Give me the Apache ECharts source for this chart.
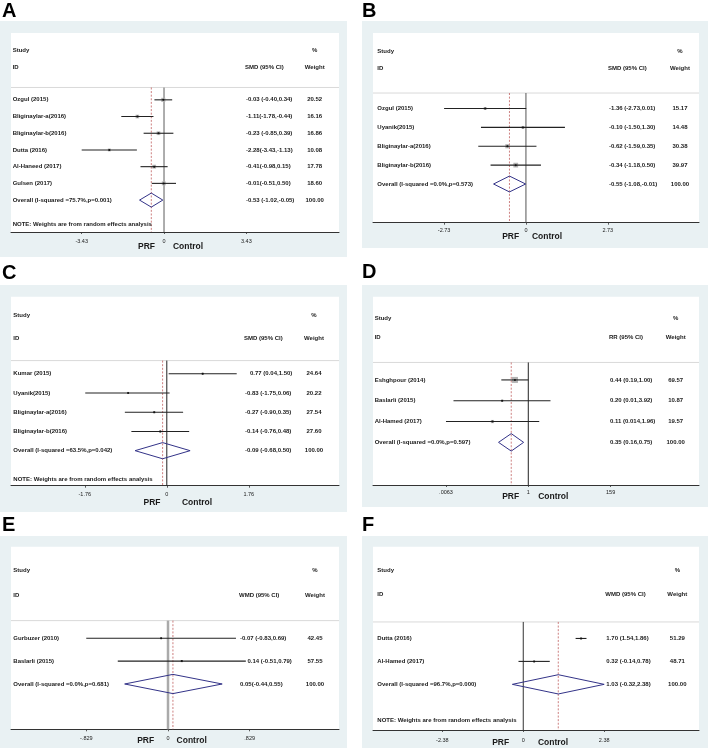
<!DOCTYPE html>
<html><head><meta charset="utf-8">
<script src="https://cdn.jsdelivr.net/npm/echarts@6/dist/echarts.min.js"></script>
<style>html,body{margin:0;padding:0;background:#fff}#c{width:709px;height:756px}</style>
</head><body><div id="c"></div><script>
// ---------------- DATA ----------------
const A_studies = ['Ozgul (2015)','Bliginaylar-a(2016)','Bliginaylar-b(2016)','Dutta (2016)','Al-Haneed (2017)','Gulsen (2017)'];
const A_est = [-0.03,-1.11,-0.23,-2.28,-0.41,-0.01];
const A_lo  = [-0.40,-1.78,-0.85,-3.43,-0.98,-0.51];
const A_hi  = [0.34,-0.44,0.39,-1.13,0.15,0.50];
const A_w   = [20.52,16.16,16.86,10.08,17.78,18.60];
const A_ci  = ['-0.03 (-0.40,0.34)','-1.11(-1.78,-0.44)','-0.23 (-0.85,0.39)','-2.28(-3.43,-1.13)','-0.41(-0.98,0.15)','-0.01(-0.51,0.50)'];
const A_overall = [-0.53,-1.02,-0.05];
const A_overallLabel = 'Overall (I-squared =75.7%,p=0.001)';
const A_overallCI = '-0.53 (-1.02,-0.05)';
const A_ticks = [-3.43,0,3.43];
const A_tickLabels = ['-3.43','0','3.43'];

const B_studies = ['Ozgul (2015)','Uyanik(2015)','Bliginaylar-a(2016)','Bliginaylar-b(2016)'];
const B_est = [-1.36,-0.10,-0.62,-0.34];
const B_lo  = [-2.73,-1.50,-1.59,-1.18];
const B_hi  = [0.01,1.30,0.35,0.50];
const B_w   = [15.17,14.48,30.38,39.97];
const B_ci  = ['-1.36 (-2.73,0.01)','-0.10 (-1.50,1.30)','-0.62 (-1.59,0.35)','-0.34 (-1.18,0.50)'];
const B_overall = [-0.55,-1.08,-0.01];
const B_overallLabel = 'Overall (I-squared =0.0%,p=0.573)';
const B_overallCI = '-0.55 (-1.08,-0.01)';
const B_ticks = [-2.73,0,2.73];
const B_tickLabels = ['-2.73','0','2.73'];

const C_studies = ['Kumar (2015)','Uyanik(2015)','Bliginaylar-a(2016)','Bliginaylar-b(2016)'];
const C_est = [0.77,-0.83,-0.27,-0.14];
const C_lo  = [0.04,-1.75,-0.90,-0.76];
const C_hi  = [1.50,0.06,0.35,0.48];
const C_w   = [24.64,20.22,27.54,27.60];
const C_ci  = ['0.77 (0.04,1.50)','-0.83 (-1.75,0.06)','-0.27 (-0.90,0.35)','-0.14 (-0.76,0.48)'];
const C_overall = [-0.09,-0.68,0.50];
const C_overallLabel = 'Overall (I-squared =63.5%,p=0.042)';
const C_overallCI = '-0.09 (-0.68,0.50)';
const C_ticks = [-1.76,0,1.76];
const C_tickLabels = ['-1.76','0','1.76'];

const D_studies = ['Eshghpour (2014)','Baslarli (2015)','Al-Hamed (2017)'];
const D_est = [0.44,0.20,0.11];
const D_lo  = [0.19,0.01,0.0063];
const D_hi  = [1.00,3.92,1.96];
const D_w   = [69.57,10.87,19.57];
const D_ci  = ['0.44 (0.19,1.00)','0.20 (0.01,3.92)','0.11 (0.014,1.96)'];
const D_overall = [0.35,0.16,0.75];
const D_overallLabel = 'Overall (I-squared =0.0%,p=0.597)';
const D_overallCI = '0.35 (0.16,0.75)';
const D_ticks = [0.0063,1,159];
const D_tickLabels = ['.0063','1','159'];

const E_studies = ['Gurbuzer (2010)','Baslarli (2015)'];
const E_est = [-0.07,0.14];
const E_lo  = [-0.83,-0.51];
const E_hi  = [0.69,0.79];
const E_w   = [42.45,57.55];
const E_ci  = ['-0.07 (-0.83,0.69)','0.14 (-0.51,0.79)'];
const E_overall = [0.05,-0.44,0.55];
const E_overallLabel = 'Overall (I-squared =0.0%,p=0.681)';
const E_overallCI = '0.05(-0.44,0.55)';
const E_ticks = [-0.829,0,0.829];
const E_tickLabels = ['-.829','0','.829'];

const F_studies = ['Dutta (2016)','Al-Hamed (2017)'];
const F_est = [1.70,0.32];
const F_lo  = [1.54,-0.14];
const F_hi  = [1.86,0.78];
const F_w   = [51.29,48.71];
const F_ci  = ['1.70 (1.54,1.86)','0.32 (-0.14,0.78)'];
const F_overall = [1.03,-0.32,2.38];
const F_overallLabel = 'Overall (I-squared =96.7%,p=0.000)';
const F_overallCI = '1.03 (-0.32,2.38)';
const F_ticks = [-2.38,0,2.38];
const F_tickLabels = ['-2.38','0','2.38'];

const panelLetters = ['A','B','C','D','E','F'];
const measures = ['SMD (95% CI)','SMD (95% CI)','SMD (95% CI)','RR (95% CI)','WMD (95% CI)','WMD (95% CI)'];
const noteText = 'NOTE: Weights are from random effects analysis';
const sideLabels = ['PRF','Control'];

// ---------------- LAYOUT ----------------
const panels = [
 {d:[A_studies,A_est,A_lo,A_hi,A_w,A_ci,A_overall,A_overallLabel,A_overallCI,A_ticks,A_tickLabels], log:false, note:true,
  L:{letter:[2,11.5], box:[0,21,347,236], plot:[11,33,328,199], xr:[-6.375,7.29], ymax:7.91, hdr:[-2.97,-1.97,-0.74,7.47], cols:[12.7,246,314.7], ciShift:[], prf:[146.5,246.7], ctl:[188,246.7], boxK:0.9, zero:['#9a9a9a',1.6], lm:6}},
 {d:[B_studies,B_est,B_lo,B_hi,B_w,B_ci,B_overall,B_overallLabel,B_overallCI,B_ticks,B_tickLabels], log:false, note:false,
  L:{letter:[362,11.5], box:[362,21,346,227], plot:[373,33,326,189.7], xr:[-5.1,5.77], ymax:6.05, hdr:[-3.03,-2.11,-0.82,0], cols:[377.3,609,680], ciShift:[], prf:[510.7,236.7], ctl:[547,236.7], boxK:0.75, zero:['#555',1], lm:4.5}},
 {d:[C_studies,C_est,C_lo,C_hi,C_w,C_ci,C_overall,C_overallLabel,C_overallCI,C_ticks,C_tickLabels], log:false, note:true,
  L:{letter:[2,273], box:[0,285,347,227], plot:[11,296.7,328,189], xr:[-3.343,3.695], ymax:5.82, hdr:[-3.04,-1.83,-0.68,5.49], cols:[13.3,245,314], ciShift:[5,0,0,0], prf:[152,503], ctl:[197,503], boxK:0.45, zero:['#222',1], lm:5.5}},
 {d:[D_studies,D_est,D_lo,D_hi,D_w,D_ci,D_overall,D_overallLabel,D_overallCI,D_ticks,D_tickLabels], log:true, note:false,
  L:{letter:[362,272], box:[362,285,346,222], plot:[373,296.7,326,188.3], xr:[-4.152,4.564], ymax:5.05, hdr:[-2.97,-2.05,-0.84,0], cols:[374.7,610,675.7], ciShift:[], prf:[510.7,497], ctl:[553.3,497], boxK:0.72, zero:['#222',1], lm:4.5}},
 {d:[E_studies,E_est,E_lo,E_hi,E_w,E_ci,E_overall,E_overallLabel,E_overallCI,E_ticks,E_tickLabels], log:false, note:false,
  L:{letter:[2,525.5], box:[0,536,347,212], plot:[11,546.7,328,182.6], xr:[-1.594,1.736], ymax:3.98, hdr:[-2.95,-1.89,-0.77,0], cols:[13.3,240,315], ciShift:[0,7.5], prf:[145.7,740.7], ctl:[191.7,740.7], boxK:0.3, zero:['#aaa',2.5], lm:6}},
 {d:[F_studies,F_est,F_lo,F_hi,F_w,F_ci,F_overall,F_overallLabel,F_overallCI,F_ticks,F_tickLabels], log:false, note:true,
  L:{letter:[362,525.5], box:[362,536,346,212], plot:[373,546.7,326,183.3], xr:[-4.42,5.17], ymax:3.99, hdr:[-2.95,-1.92,-0.72,3.56], cols:[377.3,606.3,677.3], ciShift:[], prf:[500.7,743], ctl:[553,743], boxK:0.3, zero:['#333',1], lm:7}}
];

const FAM = '"Liberation Sans", Arial, Helvetica, sans-serif';
const BG = '#e9f1f3';
const INK = '#1a1a1a';
function txt(x, y, s, align, size, weight) {
  return {type:'text', x:x, y:y, style:{text:s, fill:INK, fontSize:size||6, fontWeight:weight||'bold', fontFamily:FAM, align:align||'left', verticalAlign:'middle'}};
}

const grids = [], xAxes = [], yAxes = [], series = [], graphics = [];

panels.forEach((P, k) => {
  const [studies, est, lo, hi, w, ci, ov, ovLabel, ovCI, ticks, tickLabels] = P.d;
  const L = P.L;
  const f = P.log ? (v => Math.log10(v)) : (v => v);
  const tv = ticks.map(f);

  graphics.push({type:'rect', z:-10, shape:{x:L.box[0], y:L.box[1], width:L.box[2], height:L.box[3]}, style:{fill:BG}});
  graphics.push({type:'rect', z:-9, shape:{x:L.plot[0], y:L.plot[1], width:L.plot[2], height:L.plot[3]}, style:{fill:'#fff'}});
  graphics.push({type:'text', x:L.letter[0], y:L.letter[1], style:{text:panelLetters[k], fill:'#000', fontSize:20, fontWeight:'bold', fontFamily:FAM, align:'left', verticalAlign:'middle'}});
  graphics.push({type:'text', x:L.prf[0], y:L.prf[1], style:{text:sideLabels[0], fill:INK, fontSize:8.5, fontWeight:'bold', fontFamily:FAM, align:'center', verticalAlign:'middle'}});
  graphics.push({type:'text', x:L.ctl[0], y:L.ctl[1], style:{text:sideLabels[1], fill:INK, fontSize:8.5, fontWeight:'bold', fontFamily:FAM, align:'center', verticalAlign:'middle'}});

  grids.push({left:L.plot[0], top:L.plot[1], width:L.plot[2], height:L.plot[3], containLabel:false});
  xAxes.push({type:'value', gridIndex:k, min:L.xr[0], max:L.xr[1],
    axisLine:{show:true, onZero:false, lineStyle:{color:'#333', width:1}},
    axisTick:{show:true, customValues:tv, length:2, lineStyle:{color:'#333', width:0.8}},
    axisLabel:{show:true, customValues:tv, margin:L.lm, fontSize:5.5, color:INK, fontFamily:FAM,
      formatter: v => { let bi = 0; tv.forEach((t,i)=>{ if (Math.abs(t-v) < Math.abs(tv[bi]-v)) bi = i; }); return tickLabels[bi]; }},
    splitLine:{show:false}});
  yAxes.push({type:'value', gridIndex:k, inverse:true, min:-4, max:L.ymax, show:false});

  const [yStudy, yId, ySep, yNote] = L.hdr;
  // header, separator, reference lines
  series.push({type:'custom', xAxisIndex:k, yAxisIndex:k, clip:false, z:1, silent:true,
    data:[[f(ov[0]), 0]],
    renderItem:(params, api) => {
      const cs = params.coordSys;
      const ySt = api.coord([0, yStudy])[1], yI = api.coord([0, yId])[1], yS = api.coord([0, ySep])[1];
      const yB = cs.y + cs.height;
      const x0 = api.coord([0, 0])[0], xo = api.coord([api.value(0), 0])[0];
      const ch = [
        txt(L.cols[0], ySt, 'Study'), txt(L.cols[2], ySt, '%', 'center'),
        txt(L.cols[0], yI, 'ID'), txt(L.cols[1] - 1, yI, measures[k]), txt(L.cols[2], yI, 'Weight', 'center'),
        {type:'line', shape:{x1:cs.x, y1:yS, x2:cs.x + cs.width, y2:yS}, style:{stroke:'#d9d9d9', lineWidth:1}},
        {type:'line', shape:{x1:x0, y1:yS, x2:x0, y2:yB}, style:{stroke:L.zero[0], lineWidth:L.zero[1]}},
        {type:'line', shape:{x1:xo, y1:yS, x2:xo, y2:yB}, style:{stroke:'#c0605f', lineWidth:0.8, lineDash:[2,1.6]}}
      ];
      if (P.note) ch.push(txt(L.cols[0], api.coord([0, yNote])[1], noteText));
      return {type:'group', children:ch};
    }});
  // study rows
  series.push({type:'custom', xAxisIndex:k, yAxisIndex:k, clip:false, z:3, silent:true,
    data: est.map((e, i) => [f(e), i, f(lo[i]), f(hi[i]), w[i]]),
    renderItem:(params, api) => {
      const i = params.dataIndex;
      const pE = api.coord([api.value(0), api.value(1)]);
      const pL = api.coord([api.value(2), api.value(1)]);
      const pH = api.coord([api.value(3), api.value(1)]);
      const s = L.boxK * Math.sqrt(api.value(4));
      return {type:'group', children:[
        {type:'rect', shape:{x:pE[0]-s/2, y:pE[1]-s/2, width:s, height:s}, style:{fill:'#b4b4b4'}},
        {type:'line', shape:{x1:pL[0], y1:pE[1], x2:pH[0], y2:pE[1]}, style:{stroke:'#222', lineWidth:1.1}},
        {type:'circle', shape:{cx:pE[0], cy:pE[1], r:1}, style:{fill:'#111'}},
        txt(L.cols[0], pE[1], studies[i]),
        txt(L.cols[1] + (L.ciShift[i] || 0), pE[1], ci[i]),
        txt(L.cols[2], pE[1], w[i].toFixed(2), 'center')
      ]};
    }});
  // overall diamond
  series.push({type:'custom', xAxisIndex:k, yAxisIndex:k, clip:false, z:3, silent:true,
    data:[[f(ov[0]), studies.length, f(ov[1]), f(ov[2])]],
    renderItem:(params, api) => {
      const y = api.value(1), h = 0.42;
      const pl = api.coord([api.value(2), y]), pr = api.coord([api.value(3), y]);
      const pt = api.coord([api.value(0), y - h]), pb = api.coord([api.value(0), y + h]);
      return {type:'group', children:[
        {type:'polygon', shape:{points:[pl, pt, pr, pb]}, style:{fill:'none', stroke:'#333388', lineWidth:1}},
        txt(L.cols[0], pl[1], ovLabel),
        txt(L.cols[1], pl[1], ovCI),
        txt(L.cols[2], pl[1], (100).toFixed(2), 'center')
      ]};
    }});
});

const chart = echarts.init(document.getElementById('c'), null, {renderer:'canvas'});
chart.setOption({
  animation:false,
  backgroundColor:'#fff',
  grid:grids, xAxis:xAxes, yAxis:yAxes, series:series,
  graphic:{elements:graphics}
});
</script></body></html>
